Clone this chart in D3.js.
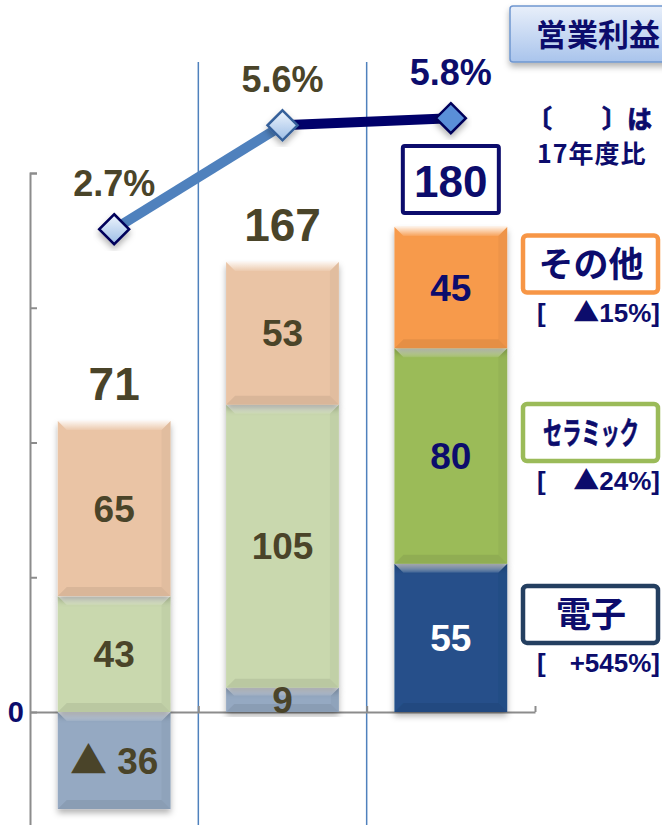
<!DOCTYPE html>
<html>
<head>
<meta charset="utf-8">
<script src="https://cdn.jsdelivr.net/npm/d3@7"></script>
<style>
  body { margin: 0; background: #fff; }
  text { font-family: "Liberation Sans", "Noto Sans CJK JP", sans-serif; font-weight: bold; }
  .jp { font-family: "Noto Sans CJK JP", sans-serif; }
  .tri { font-family: "Noto Sans CJK JP", sans-serif; }
</style>
</head>
<body>
<div id="chart"></div>
<script>
// values
const categories = ["17年度", "18年度", "19年度"];
const electronics = [-36, 9, 55];
const ceramics = [43, 105, 80];
const others = [65, 53, 45];
const totals = [71, 167, 180];
const margins = [2.7, 5.6, 5.8];            // 営業利益率 (%)
const segmentNames = ["電子", "セラミック", "その他"];
const changeLabels = ["+545%", "▲24%", "▲15%"];   // 17年度比
const yTicks = [-50, 0, 50, 100, 150, 200];

const width = 662, height = 825;
const olive = "#4a4429", navy = "#0c0c6c";

const paleColor = { "電子": "#95a9c2", "セラミック": "#c9d8ae", "その他": "#eac4a5" };
const vividColor = { "電子": "#25508a", "セラミック": "#9bbb59", "その他": "#f79a4b" };
const legendBorder = { "電子": "#243f60", "セラミック": "#9bbb59", "その他": "#f79646" };

const table = categories.map((c, i) => ({
  cat: c, "電子": electronics[i], "セラミック": ceramics[i], "その他": others[i]
}));

const svg = d3.select("#chart").append("svg")
  .attr("width", width).attr("height", height)
  .attr("viewBox", [0, 0, width, height]);

const defs = svg.append("defs");
const shadow = defs.append("filter").attr("id", "shadow")
  .attr("x", "-20%").attr("y", "-20%").attr("width", "140%").attr("height", "140%");
shadow.append("feDropShadow").attr("dx", 0).attr("dy", 4).attr("stdDeviation", 3)
  .attr("flood-color", "#000").attr("flood-opacity", 0.3);

let hi = defs.append("linearGradient").attr("id", "hilite").attr("x1", 0).attr("y1", 0).attr("x2", 0).attr("y2", 1);
hi.append("stop").attr("offset", "0%").attr("stop-color", "#fff").attr("stop-opacity", 0.85);
hi.append("stop").attr("offset", "100%").attr("stop-color", "#fff").attr("stop-opacity", 0.1);

let dia = defs.append("linearGradient").attr("id", "diamond").attr("x1", 0).attr("y1", 0).attr("x2", 0).attr("y2", 1);
dia.append("stop").attr("offset", "0%").attr("stop-color", "#eef5fd");
dia.append("stop").attr("offset", "100%").attr("stop-color", "#9cbde6");

let titleGrad = defs.append("linearGradient").attr("id", "titleGrad").attr("x1", 0).attr("y1", 0).attr("x2", 0).attr("y2", 1);
titleGrad.append("stop").attr("offset", "0%").attr("stop-color", "#e8effa");
titleGrad.append("stop").attr("offset", "100%").attr("stop-color", "#a9c4ec");

// scales
let x = d3.scaleBand()
  .domain(categories)
  .range([30, 535])
  .paddingInner(0.33)
  .paddingOuter(0.165);

let xb = d3.scaleLinear().domain([0, 3]).range([30, 535]); // band boundaries

let y = d3.scaleLinear()
  .domain([-50, 200])
  .range([846.75, 173]);

let yPct = d3.scaleLinear()
  .domain([0, 6])
  .range([326, 111]);

// writes "▲" with the wide CJK glyph, the rest in the latin face
function triText(sel, str) {
  str.split(/(▲)/).filter(p => p !== "").forEach(p => {
    let t = sel.append("tspan").text(p);
    if (p === "▲") t.attr("class", "tri");
  });
}

// blue separators between years
svg.append("g").selectAll("line")
  .data([1, 2])
  .join("line")
  .attr("x1", d => xb(d)).attr("x2", d => xb(d))
  .attr("y1", 62).attr("y2", height)
  .attr("stroke", "#4f81bd").attr("stroke-width", 1.5);

// y axis (only the 0 is labelled)
svg.append("g")
  .attr("transform", "translate(30,0)")
  .call(d3.axisLeft(y)
    .tickValues(yTicks)
    .tickSizeInner(-7)
    .tickSizeOuter(-7)
    .tickFormat(""))
  .call(g => g.selectAll("path, line").attr("stroke", "#8c8c8c").attr("stroke-width", 2));

svg.append("text")
  .attr("x", 24).attr("y", y(0) + 10)
  .attr("text-anchor", "end")
  .style("font-size", "29px")
  .attr("fill", navy)
  .text("0");

// zero line with category ticks
svg.append("g")
  .attr("transform", `translate(0,${y(0)})`)
  .call(d3.axisTop(xb).tickValues([1, 2, 3]).tickSizeInner(6).tickSizeOuter(0).tickFormat(""))
  .call(g => g.selectAll("path, line").attr("stroke", "#8c8c8c").attr("stroke-width", 2));

// stacked bars
const series = d3.stack().keys(segmentNames).offset(d3.stackOffsetDiverging)(table);

const segs = [];
series.forEach(s => s.forEach((d, i) => segs.push({ key: s.key, i: i, y0: d[0], y1: d[1], v: d.data[s.key] })));

const bars = svg.append("g");
segs.forEach(d => {
  let x0 = x(categories[d.i]), w = x.bandwidth();
  let top = y(Math.max(d.y0, d.y1)), h = Math.abs(y(d.y0) - y(d.y1));
  let b = Math.min(9, h / 3);
  let g = bars.append("g").attr("filter", "url(#shadow)");
  g.append("rect")
    .attr("x", x0).attr("y", top).attr("width", w).attr("height", h)
    .attr("fill", d.i === 2 ? vividColor[d.key] : paleColor[d.key]);
  // bevel
  g.append("polygon")
    .attr("points", [[x0, top], [x0 + w, top], [x0 + w - b, top + b], [x0 + b, top + b]].join(" "))
    .attr("fill", "url(#hilite)");
  g.append("polygon")
    .attr("points", [[x0, top + h], [x0 + w, top + h], [x0 + w - b, top + h - b], [x0 + b, top + h - b]].join(" "))
    .attr("fill", "#000").attr("opacity", 0.07);
  g.append("polygon")
    .attr("points", [[x0 + w, top], [x0 + w, top + h], [x0 + w - b, top + h - b], [x0 + w - b, top + b]].join(" "))
    .attr("fill", "#000").attr("opacity", 0.035);
});

// segment labels
svg.append("g").selectAll("text")
  .data(segs)
  .join("text")
  .attr("x", d => x(categories[d.i]) + x.bandwidth() / 2)
  .attr("y", d => (y(d.y0) + y(d.y1)) / 2 + 13)
  .attr("text-anchor", "middle")
  .attr("font-size", 37)
  .attr("fill", d => d.i < 2 ? olive : (d.key === "電子" ? "#fff" : navy))
  .each(function(d) { triText(d3.select(this), d.v < 0 ? "▲ " + Math.abs(d.v) : String(d.v)); });

// totals
totals.forEach((t, i) => {
  let cx = x(categories[i]) + x.bandwidth() / 2;
  let top = y(d3.max(series, s => s[i][1]));
  if (i === 2) {
    svg.append("rect")
      .attr("x", cx - 48).attr("y", top - 81).attr("width", 96).attr("height", 67)
      .attr("fill", "#fff").attr("stroke", navy).attr("stroke-width", 4).attr("rx", 2);
  }
  svg.append("text")
    .attr("x", cx)
    .attr("y", i === 2 ? top - 30 : top - 21)
    .attr("text-anchor", "middle")
    .attr("font-size", i === 2 ? 44 : 46)
    .attr("fill", i === 2 ? navy : olive)
    .text(t);
});

// margin line
const pts = margins.map((m, i) => [x(categories[i]) + x.bandwidth() / 2, yPct(m)]);
const line = d3.line();
svg.append("path").attr("d", line([pts[0], pts[1]]))
  .attr("fill", "none").attr("stroke", "#4f81bd").attr("stroke-width", 10);
svg.append("path").attr("d", line([pts[1], pts[2]]))
  .attr("fill", "none").attr("stroke", "#00006a").attr("stroke-width", 10);

svg.append("g").selectAll("path")
  .data(pts)
  .join("path")
  .attr("d", d => `M${d[0]},${d[1] - 15}L${d[0] + 15},${d[1]}L${d[0]},${d[1] + 15}L${d[0] - 15},${d[1]}Z`)
  .attr("fill", (d, i) => i === 2 ? "#5a8fd8" : "url(#diamond)")
  .attr("stroke", (d, i) => i === 1 ? "#36609a" : "#00005a")
  .attr("stroke-width", 2.5)
  .attr("filter", "url(#shadow)");

svg.append("g").selectAll("text")
  .data(margins)
  .join("text")
  .attr("x", (d, i) => pts[i][0])
  .attr("y", (d, i) => pts[i][1] - 33)
  .attr("text-anchor", "middle")
  .attr("font-size", 36)
  .attr("fill", (d, i) => i === 2 ? navy : olive)
  .text(d => d.toFixed(1) + "%");

// title box
svg.append("rect")
  .attr("x", 510).attr("y", 6).attr("width", 170).attr("height", 56).attr("rx", 3)
  .attr("fill", "url(#titleGrad)").attr("stroke", "#6f96d0").attr("stroke-width", 1.5)
  .attr("filter", "url(#shadow)");
svg.append("text").attr("class", "jp")
  .attr("x", 536).attr("y", 46)
  .attr("font-size", 31).attr("fill", navy)
  .text("営業利益");

svg.append("text").attr("class", "jp")
  .attr("x", 527).attr("y", 128)
  .attr("font-size", 25).attr("fill", navy)
  .attr("stroke", navy).attr("stroke-width", 0.8)
  .text("〔　　〕は");
svg.append("text").attr("class", "jp")
  .attr("x", 537).attr("y", 163)
  .attr("font-size", 25).attr("fill", navy)
  .attr("letter-spacing", 1)
  .text("17年度比");

// legend boxes next to the last bar
segmentNames.forEach((name, k) => {
  let s = series.find(d => d.key === name)[2];
  let mid = (y(s[0]) + y(s[1])) / 2;
  let top = mid - 52;
  svg.append("rect")
    .attr("x", 523).attr("y", top).attr("width", 135).attr("height", 57).attr("rx", 4)
    .attr("fill", "#fff").attr("stroke", legendBorder[name]).attr("stroke-width", 4.5);
  let narrow = name === "セラミック";
  svg.append("text").attr("class", "jp")
    .attr("transform", `translate(591,${top + (narrow ? 40 : 41)}) scale(${narrow ? 0.62 : 1},1)`)
    .attr("text-anchor", "middle")
    .attr("font-size", narrow ? 31 : 35)
    .attr("fill", navy)
    .attr("stroke", narrow ? navy : "none").attr("stroke-width", 0.6)
    .text(name);
  svg.append("text")
    .attr("x", 537).attr("y", top + 86)
    .attr("font-size", 26).attr("fill", navy)
    .text("[");
  svg.append("text")
    .attr("x", 660).attr("y", top + 86)
    .attr("text-anchor", "end")
    .attr("font-size", 26).attr("fill", navy)
    .call(sel => triText(sel, changeLabels[k] + "]"));
});
</script>
</body>
</html>
